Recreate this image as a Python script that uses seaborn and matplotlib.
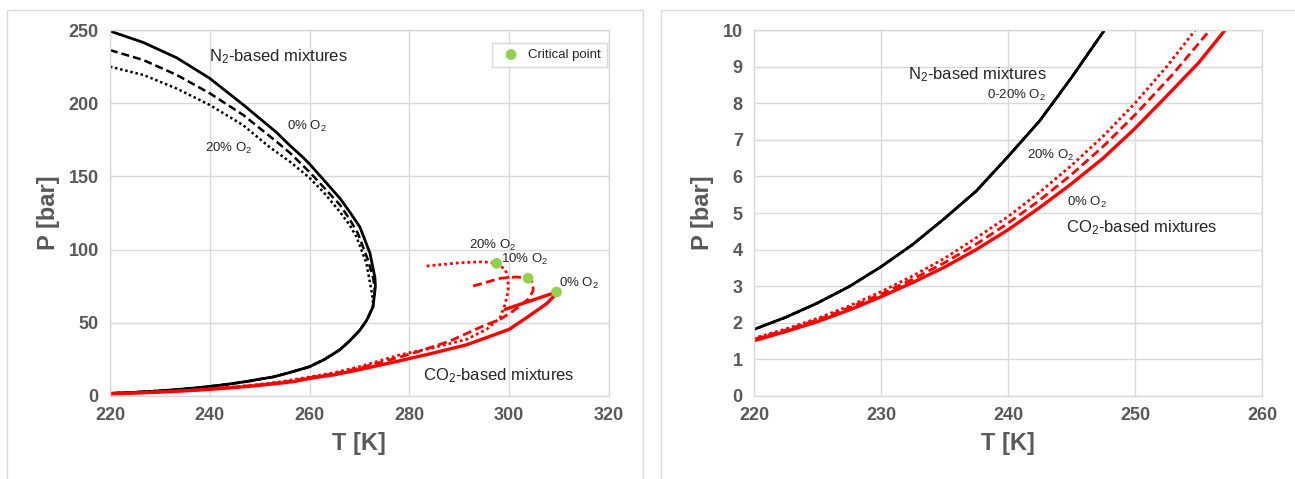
import matplotlib
matplotlib.use("Agg")
import matplotlib.pyplot as plt
from matplotlib.patches import Rectangle
import seaborn as sns

# ---------------------------------------------------------------------------
# data (T in K, P in bar)

# N2-based mixtures, upper (dew) branch down to the nose
n2_0_T = [220, 226.7, 233.4, 240, 246.7, 253.4, 256.1, 258.7, 260, 263, 266.1,
          268, 270.1, 272.1, 273.1, 273.2, 272.9]
n2_0_P = [249.3, 241.5, 231, 217, 199, 180, 171, 163, 158.5, 147, 135,
          126, 115.4, 97.7, 81, 75, 66]
n2_10_T = [220, 226.7, 233.4, 240, 246.7, 253.4, 256.1, 260, 263, 266.1,
           268, 269.7, 271.7, 272.8, 273.1, 272.9]
n2_10_P = [236.3, 229.5, 219.3, 206.8, 192, 173.7, 166, 153, 142, 130.5,
           121, 111, 93, 80, 72, 66]
n2_20_T = [220, 226.7, 233.4, 240, 246.7, 252, 256.1, 260, 263, 266.1,
           268, 269.4, 271.4, 272.4, 272.7]
n2_20_P = [225, 219.3, 210, 198.8, 185, 170, 160, 149, 138.5, 125.7,
           117, 108.8, 90.8, 72, 66]
# lower branch, same for 0-20% O2
n2_low_T = [272.7, 271.5, 270.1, 268, 266, 263, 260, 256, 252.7, 250,
            247.6, 245, 242.5, 240, 237.5, 235, 232.5, 230, 227.5, 225, 222.5, 220]
n2_low_P = [60.8, 52, 45, 37.5, 31.4, 25, 20, 16, 13, 11.5,
            10, 8.7, 7.52, 6.54, 5.6, 4.85, 4.14, 3.53, 2.99, 2.54, 2.15, 1.82]

# CO2-based mixtures, from left end of upper branch through critical point and down
co2_0_T = [299.2, 304.2, 309.5, 309.2, 307.5, 303.5, 300, 291.5, 285, 278, 270,
           265, 260, 257.1, 255, 252.5, 250, 247.5, 245, 242.5, 240, 237.5, 235,
           232.5, 230, 227.5, 225, 222.5, 220]
co2_0_P = [59.2, 64.9, 71, 69, 63, 53.5, 45.5, 35, 29.5, 24, 18,
           14.5, 12, 10, 9.1, 8.2, 7.31, 6.5, 5.8, 5.15, 4.54, 4.0, 3.52,
           3.1, 2.71, 2.35, 2.03, 1.76, 1.51]
co2_10_T = [292.8, 298.2, 301.5, 303.8, 304.8, 304.8, 303.8, 300.8, 298.2, 294.8,
            288.1, 281.5, 278, 270, 265, 260, 255.9, 253, 250, 247.5, 245, 242.5,
            240, 237.5, 235, 232.5, 230, 227.5, 225, 222.5, 220]
co2_10_P = [75.1, 80.4, 81.3, 80.5, 77.4, 71.7, 66, 58, 52.4, 47.8,
            37.5, 30, 26.5, 19, 15.3, 12.5, 10, 8.8, 7.68, 6.82, 6.05, 5.35,
            4.72, 4.15, 3.64, 3.19, 2.78, 2.41, 2.08, 1.8, 1.55]
co2_20_T = [283.5, 290.1, 294.8, 297.5, 299.2, 299.8, 299.8, 299.2, 298.2, 295.5,
            291.5, 284.8, 278, 270, 265, 260, 254.75, 252.5, 250, 247.5, 245,
            242.5, 240, 237.5, 235, 232.5, 230, 227.5, 225, 222.5, 220]
co2_20_P = [88.8, 91, 91.7, 90.6, 86.5, 80.8, 71.7, 62.6, 53.5, 45.6,
            38.7, 33, 28, 20, 16, 13, 10, 9.0, 8.0, 7.1, 6.3,
            5.57, 4.9, 4.32, 3.76, 3.28, 2.85, 2.46, 2.12, 1.83, 1.58]

crit_T = [309.5, 303.8, 297.5]
crit_P = [71, 80.5, 90.6]

# ---------------------------------------------------------------------------

sns.set_style("whitegrid")
plt.rcParams['font.family'] = ['Liberation Sans', 'DejaVu Sans']
plt.rcParams['mathtext.default'] = 'regular'

GRID = '#d9d9d9'
TXT = '#595959'
RED = '#ff0000'
GREEN = '#92d050'
DASH = (0, (3.2, 1.6))
DOT = (0, (1, 1.1))

fig = plt.figure(figsize=(12.95, 4.79), dpi=100)
ax1 = fig.add_axes([0.0849, 0.1733, 0.3853, 0.764])
ax2 = fig.add_axes([0.5822, 0.1733, 0.3923, 0.764])

# chart-area borders like the spreadsheet export
fig.patches.append(Rectangle((7 / 1295, -0.05), 636 / 1295, 1.05 - 10 / 479,
                             transform=fig.transFigure, fill=False, ec=GRID, lw=1))
fig.patches.append(Rectangle((661 / 1295, -0.05), 0.6, 1.05 - 10 / 479,
                             transform=fig.transFigure, fill=False, ec=GRID, lw=1))


def curve(ax, T, P, color, ls, lw):
    sns.lineplot(x=T, y=P, ax=ax, sort=False, estimator=None, color=color,
                 linestyle=ls, linewidth=lw, legend=False)


for ax in (ax1, ax2):
    # N2
    curve(ax, n2_0_T + n2_low_T, n2_0_P + n2_low_P, 'black', '-', 2.0)
    curve(ax, n2_10_T + n2_low_T, n2_10_P + n2_low_P, 'black', DASH, 1.8)
    curve(ax, n2_20_T + n2_low_T, n2_20_P + n2_low_P, 'black', DOT, 1.8)
    # CO2
    curve(ax, co2_0_T, co2_0_P, RED, '-', 2.4)
    curve(ax, co2_10_T, co2_10_P, RED, DASH, 2.0)
    curve(ax, co2_20_T, co2_20_P, RED, DOT, 2.0)

sns.scatterplot(x=crit_T, y=crit_P, ax=ax1, color=GREEN, s=60, edgecolor='none',
                zorder=5, label='Critical point')

ax1.set_xlim(220, 320)
ax1.set_ylim(0, 250)
ax1.set_xticks(range(220, 321, 20))
ax1.set_yticks(range(0, 251, 50))
ax2.set_xlim(220, 260)
ax2.set_ylim(0, 10)
ax2.set_xticks(range(220, 261, 10))
ax2.set_yticks(range(0, 11, 1))

for ax in (ax1, ax2):
    ax.grid(True, color=GRID, lw=1)
    for s in ax.spines.values():
        s.set_color(GRID)
        s.set_linewidth(1)
    ax.tick_params(length=0, labelsize=13, labelcolor=TXT, pad=8)
    for lab in ax.get_xticklabels() + ax.get_yticklabels():
        lab.set_fontweight('bold')
    ax.set_xlabel('T [K]', fontsize=17, fontweight='bold', color=TXT, labelpad=6)
    ax.set_ylabel('P [bar]', fontsize=17, fontweight='bold', color=TXT, labelpad=6)

leg = ax1.legend(loc='upper right', bbox_to_anchor=(0.996, 0.965), borderaxespad=0,
                 fontsize=9.5, frameon=True, fancybox=False, edgecolor=GRID,
                 framealpha=1, handletextpad=0.3, borderpad=0.45)
leg.get_frame().set_linewidth(1)

# left annotations
ax1.text(253.7, 231.5, 'N$_2$-based mixtures', fontsize=12, ha='center', va='center')
ax1.text(259.5, 184, '0% O$_2$', fontsize=9.5, ha='center', va='center')
ax1.text(243.8, 169, '20% O$_2$', fontsize=9.5, ha='center', va='center')
ax1.text(296.7, 103, '20% O$_2$', fontsize=9.5, ha='center', va='center')
ax1.text(303.2, 93, '10% O$_2$', fontsize=9.5, ha='center', va='center')
ax1.text(314, 77, '0% O$_2$', fontsize=9.5, ha='center', va='center')
ax1.text(298, 13.7, 'CO$_2$-based mixtures', fontsize=12, ha='center', va='center')

# right annotations
ax2.text(237.6, 8.77, 'N$_2$-based mixtures', fontsize=12, ha='center', va='center')
ax2.text(243, 8.2, '0-20% O$_2$', fontsize=9.5, ha='right', va='center')
ax2.text(243.4, 6.56, '20% O$_2$', fontsize=9.5, ha='center', va='center')
ax2.text(246.2, 5.3, '0% O$_2$', fontsize=9.5, ha='center', va='center')
ax2.text(244.6, 4.6, 'CO$_2$-based mixtures', fontsize=12, ha='left', va='center')

fig.savefig('out.png', dpi=100)
